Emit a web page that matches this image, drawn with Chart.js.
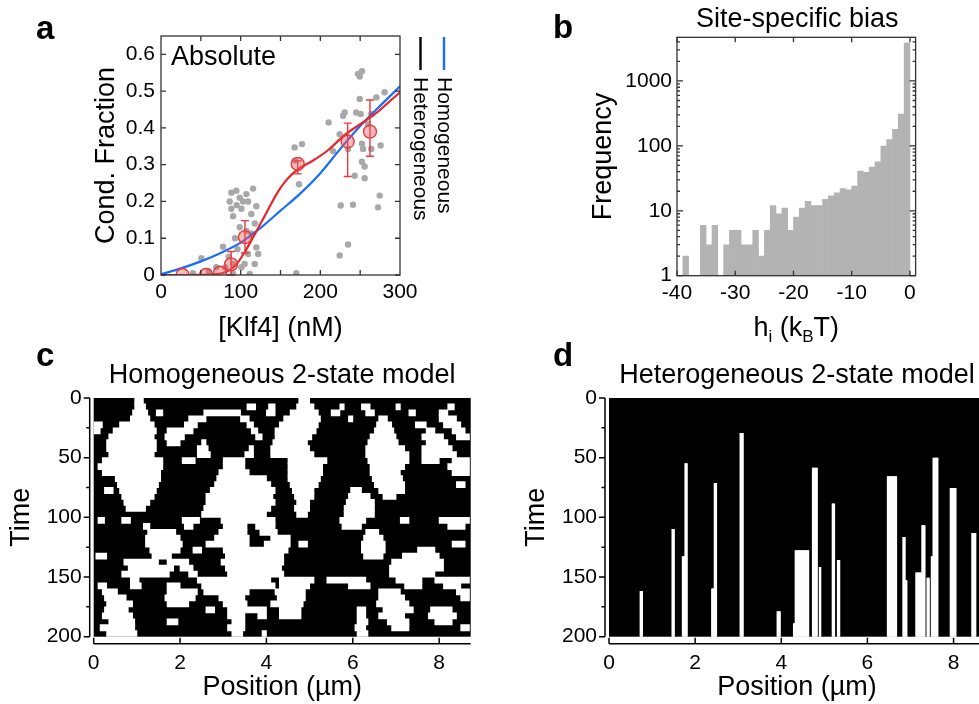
<!DOCTYPE html>
<html>
<head>
<meta charset="utf-8">
<script src="https://cdn.jsdelivr.net/npm/chart.js@4.4.1/dist/chart.umd.min.js"></script>
<style>
  html, body { margin: 0; padding: 0; background: #fff; width: 979px; height: 704px; overflow: hidden; }
  canvas { position: absolute; }
</style>
</head>
<body>
<canvas id="chart-a" width="490" height="345" style="left:0;top:0"></canvas>
<canvas id="chart-b" width="489" height="345" style="left:490px;top:0"></canvas>
<canvas id="chart-c" width="490" height="364" style="left:0;top:340px"></canvas>
<canvas id="chart-d" width="520" height="364" style="left:490px;top:340px"></canvas>
<script>
// ---- panel a: condensate fraction vs [Klf4] ----
const aPtsX = [50.6, 77.8, 69.4, 80.7, 90.4, 90.4, 94.5, 88.3, 86.2, 98.8, 107.2, 115.6, 90.4, 100.9, 109.3, 119.7,
  88.3, 113.4, 98.8, 107.2, 117.7, 113.4, 119.7, 109.3, 122, 105, 117.7, 111.3, 100.9, 95, 103, 93, 96, 85, 60, 40,
  169.9, 167.7, 177, 168.3, 173.2,
  210.4, 215.9, 228.5, 230.6, 224.3, 225.6, 224.3, 234.8, 241, 243.1, 247.3, 252.3, 249.4, 249.4, 250.7, 252.3,
  253.6, 252.3, 255.6, 255.6, 264, 270.3, 275.7, 274.5, 272.4, 280.7, 264, 259.8, 245, 234.8];
const aPtsY = [0.046, 0.077, 0.021, 0.021, 0.003, 0.03, 0.229, 0.224, 0.2, 0.21, 0.22, 0.235, 0.16, 0.18, 0.2, 0.187,
  0.18, 0.166, 0.13, 0.12, 0.14, 0.113, 0.075, 0.057, 0.057, 0.03, 0.03, 0.003, 0.021, 0.19, 0.2, 0.1, 0.07, 0.05, 0.01, 0.005,
  0.005, 0.347, 0.356, 0.311, 0.247,
  0.415, 0.337, 0.433, 0.442, 0.383, 0.189, 0.053, 0.083, 0.191, 0.27, 0.547, 0.554, 0.54, 0.479, 0.438, 0.357,
  0.343, 0.308, 0.295, 0.263, 0.343, 0.483, 0.352, 0.216, 0.184, 0.497, 0.438, 0.411, 0.442, 0.343];
const aHomX = [0, 25, 50, 75, 100, 125, 150, 175, 200, 225, 250, 275, 300];
const aHomY = [0.002, 0.018, 0.037, 0.06, 0.088, 0.128, 0.175, 0.222, 0.277, 0.343, 0.405, 0.46, 0.513];
const aHetX = [0, 30, 60, 75, 85, 95, 105, 115, 125, 135, 145, 155, 165, 175, 190, 210, 230, 250, 270, 290, 300];
const aHetY = [0, 0, 0.001, 0.004, 0.012, 0.03, 0.062, 0.1, 0.14, 0.18, 0.22, 0.252, 0.275, 0.292, 0.31, 0.34, 0.38, 0.41, 0.44, 0.478, 0.497];
const aMeanX = [27, 56.5, 74, 88, 105.4, 171.6, 234.3, 262.3];
const aMeanY = [0, 0, 0.006, 0.029, 0.103, 0.302, 0.363, 0.39];
const aErrLow = [0, 0, 0, 0, 0.06, 0.275, 0.268, 0.323];
const aErrHigh = [0, 0, 0.01, 0.064, 0.148, 0.31, 0.413, 0.476];
const aXTicks = [0, 100, 200, 300];
const aXMarks = [50, 100, 150, 200, 250];
const aYTicks = [0, 0.1, 0.2, 0.3, 0.4, 0.5, 0.6];

// ---- panel b: histogram of site-specific bias ----
const bBinCenters = [-39.5, -38.5, -37.5, -36.5, -35.5, -34.5, -33.5, -32.5, -31.5, -30.5, -29.5, -28.5, -27.5, -26.5,
  -25.5, -24.5, -23.5, -22.5, -21.5, -20.5, -19.5, -18.5, -17.5, -16.5, -15.5, -14.5, -13.5, -12.5, -11.5, -10.5,
  -9.5, -8.5, -7.5, -6.5, -5.5, -4.5, -3.5, -2.5, -1.5, -0.5];
const bCounts = [null, 2, null, null, 6, 3, 6, null, 3, 5, 5, 3, 3, 5, 2, 5, 12, 9, 11, 5, 8, 11, 14, 12, 12, 15, 17, 19,
  22, 21, 24, 41, 39, 47, 57, 99, 125, 180, 309, 3850];
const bXTicks = [-40, -30, -20, -10, 0];
const bYTicks = [1, 10, 100, 1000];

// ---- panel c: homogeneous model, white runs per 5-step time row ----
const cRowTimes = [2.5, 7.5, 12.5, 17.5, 22.5, 27.5, 32.5, 37.5, 42.5, 47.5, 52.5, 57.5, 62.5, 67.5, 72.5, 77.5, 82.5,
  87.5, 92.5, 97.5, 102.5, 107.5, 112.5, 117.5, 122.5, 127.5, 132.5, 137.5, 142.5, 147.5, 152.5, 157.5, 162.5, 167.5,
  172.5, 177.5, 182.5, 187.5, 192.5, 197.5];
const cWhiteRuns = [
  [0.95, 1.15, 4.75, 5.0],
  [0.95, 1.2, 3.55, 3.75, 4.05, 4.2, 4.7, 5.1, 5.7, 5.8, 6.2, 6.4, 7.0, 7.1, 8.2, 8.35],
  [0.9, 1.25, 1.45, 1.6, 2.55, 3.4, 4.0, 4.2, 4.55, 5.2, 5.5, 5.7, 6.3, 6.5, 7.3, 7.45, 8.0, 8.2],
  [0.85, 1.3, 2.2, 2.6, 3.4, 3.6, 4.4, 5.25, 5.9, 6.0, 6.6, 6.8, 8.0, 8.4],
  [0.0, 0.2, 0.6, 1.4, 2.1, 2.4, 3.55, 3.7, 4.3, 5.2, 6.55, 6.9, 7.45, 7.7, 8.1, 8.5],
  [0.0, 0.15, 0.45, 1.45, 1.7, 2.3, 3.65, 3.8, 4.2, 5.15, 6.5, 6.95, 7.7, 7.9, 8.3, 8.6],
  [0.35, 1.4, 1.65, 2.1, 3.75, 3.9, 4.2, 5.05, 6.4, 7.0, 7.6, 8.1, 8.4, 8.7],
  [0.3, 1.45, 1.7, 2.0, 2.5, 2.6, 4.15, 4.95, 6.35, 7.05, 7.7, 8.2],
  [0.3, 1.45, 2.4, 2.65, 3.6, 3.7, 4.1, 5.0, 6.3, 7.2, 7.6, 8.3],
  [0.35, 1.4, 2.4, 2.7, 3.5, 3.7, 4.1, 5.1, 6.3, 7.3, 7.6, 8.4],
  [0.2, 1.6, 2.05, 2.35, 3.0, 3.5, 4.5, 5.4, 6.35, 7.3, 7.6, 8.0, 8.3, 8.7],
  [0.1, 1.6, 3.0, 3.5, 4.5, 5.3, 6.4, 7.2, 8.2, 8.7],
  [0.2, 1.55, 2.9, 3.6, 4.5, 5.3, 6.4, 7.1, 8.3, 8.7],
  [0.5, 1.55, 2.85, 4.0, 4.5, 5.25, 6.45, 7.15],
  [0.55, 1.5, 2.8, 4.1, 4.55, 5.2, 6.5, 7.2, 8.4, 8.6],
  [0.25, 0.45, 0.6, 1.45, 2.7, 4.2, 4.6, 5.1, 5.95, 6.2, 6.6, 7.2],
  [0.65, 1.4, 2.6, 4.15, 4.65, 5.1, 5.9, 6.4, 6.7, 7.0],
  [0.7, 1.3, 2.6, 4.2, 4.7, 5.0, 5.85, 6.5],
  [0.75, 1.2, 2.55, 4.1, 4.65, 5.0, 5.8, 6.5],
  [2.5, 4.0, 4.7, 4.95, 5.8, 6.5],
  [0.1, 0.25, 0.65, 0.85, 2.05, 2.45, 2.95, 4.2, 5.7, 6.3, 7.1, 7.3, 8.0, 8.7],
  [1.15, 1.3, 2.1, 2.3, 3.0, 3.55, 3.75, 4.2, 5.75, 6.2, 8.2, 8.6],
  [1.25, 1.9, 2.9, 3.55, 3.85, 4.25, 6.3, 6.6],
  [1.2, 2.0, 2.8, 3.6, 4.1, 4.55, 6.25, 6.7],
  [1.2, 2.05, 2.6, 3.6, 3.95, 4.55, 4.75, 4.95, 6.2, 6.75, 8.3, 8.6],
  [1.3, 2.0, 2.3, 2.5, 3.0, 4.5, 6.2, 6.75, 7.5, 7.9],
  [0.05, 0.3, 1.35, 1.8, 3.05, 4.4, 6.25, 6.7, 7.15, 8.0],
  [0.7, 1.5, 1.7, 2.2, 2.95, 4.4, 6.9, 8.1],
  [0.8, 1.85, 2.0, 2.3, 3.05, 4.35, 6.85, 8.1],
  [0.65, 1.75, 2.2, 2.4, 3.1, 4.4, 6.85, 7.9],
  [0.85, 1.05, 2.4, 4.1, 4.3, 5.1, 5.4, 6.3, 7.0, 7.6, 7.9, 8.7],
  [0.1, 0.3, 0.85, 1.1, 1.7, 2.0, 2.5, 4.2, 4.3, 5.0, 5.9, 6.4, 7.2, 7.6, 8.1, 8.5],
  [0.2, 0.55, 1.7, 2.4, 2.55, 3.6, 4.2, 4.9, 6.6, 7.1, 8.4, 8.7],
  [0.25, 0.75, 1.65, 2.35, 2.9, 3.5, 4.25, 4.9, 6.6, 7.2, 8.5, 8.7],
  [0.3, 0.9, 1.7, 2.2, 3.0, 3.55, 4.1, 4.85, 6.55, 7.3],
  [0.25, 0.8, 2.6, 2.8, 3.1, 4.0, 4.3, 4.8, 6.1, 6.3, 6.7, 7.4, 7.8, 8.3],
  [0.2, 0.9, 3.1, 3.5, 3.8, 4.0, 4.3, 4.8, 6.1, 6.3, 6.6, 7.2, 7.75, 8.4],
  [0.35, 0.95, 1.7, 1.95, 3.2, 3.5, 6.1, 6.35, 6.8, 7.3, 7.9, 8.3],
  [0.15, 0.95, 3.1, 3.5, 6.05, 6.3, 6.9, 7.3, 8.5, 8.7],
  [0.3, 1.0, 3.2, 3.45, 3.9, 4.0, 6.1, 6.35]
];

// ---- panel d: heterogeneous model, white bound stretches ----
const dBarStart = [0.713, 1.455, 1.696, 1.758, 2.378, 2.447, 3.036, 3.896, 4.283, 4.315, 4.72, 4.886, 5.18, 5.3,
  6.45, 6.82, 6.88, 7.12, 7.26, 7.37, 7.47, 7.51, 7.92, 8.42];
const dBarEnd = [0.774, 1.51, 1.797, 1.813, 2.455, 2.494, 3.12, 3.989, 4.345, 4.64, 4.85, 4.925, 5.23, 5.35,
  6.68, 6.88, 6.92, 7.28, 7.34, 7.44, 7.53, 7.64, 8.06, 8.51];
const dBarTop = [162, 110, 133, 55, 160, 71.5, 29.6, 179, 189, 128, 58.7, 142, 88.8, 136,
  66, 116.8, 153, 146.6, 107, 151, 133, 50.3, 75.7, 113.4];

const kymoXTicks = [0, 2, 4, 6, 8];
const kymoYTicks = [0, 50, 100, 150, 200];
const kymoYMinor = [25, 75, 125, 175];

const FONT = 'Arial, "Liberation Sans", Helvetica, sans-serif';
Chart.defaults.font.family = FONT;
Chart.defaults.color = '#000';
Chart.defaults.animation = false;
Chart.defaults.plugins.legend.display = false;
Chart.defaults.plugins.tooltip.enabled = false;

function pts(xs, ys) { return xs.map((x, i) => ({ x, y: ys[i] })); }
function setTicks(vals) { return s => { s.ticks = vals.map(v => ({ value: v })); }; }
function fixW(w) { return s => { s.width = w; }; }
function fixH(h) { return s => { s.height = h; }; }
function txt(ctx, s, x, y, o = {}) {
  ctx.save();
  ctx.font = (o.bold ? 'bold ' : '') + (o.size || 27) + 'px ' + FONT;
  ctx.fillStyle = '#000';
  ctx.textAlign = o.align || 'left';
  ctx.textBaseline = o.base || 'alphabetic';
  ctx.translate(x, y);
  if (o.rot) ctx.rotate(o.rot);
  ctx.fillText(s, 0, 0);
  ctx.restore();
}
function hiddenGrid() { return { display: false, drawTicks: false }; }

// box with inward ticks on all four sides
function boxPlugin(xMarks, yMarks) {
  return {
    id: 'box',
    afterDatasetsDraw(chart) {
      const { ctx, chartArea: a, scales: { x, y } } = chart;
      ctx.save();
      ctx.strokeStyle = '#333';
      ctx.lineWidth = 1.3;
      ctx.strokeRect(a.left, a.top, a.right - a.left, a.bottom - a.top);
      ctx.beginPath();
      xMarks.forEach(v => {
        const px = x.getPixelForValue(v);
        ctx.moveTo(px, a.bottom); ctx.lineTo(px, a.bottom - 5);
        ctx.moveTo(px, a.top); ctx.lineTo(px, a.top + 5);
      });
      yMarks.forEach(m => {
        const py = y.getPixelForValue(m[0]);
        ctx.moveTo(a.left, py); ctx.lineTo(a.left + m[1], py);
        ctx.moveTo(a.right, py); ctx.lineTo(a.right - m[1], py);
      });
      ctx.stroke();
      ctx.restore();
    }
  };
}

// ---------------- panel a ----------------
new Chart(document.getElementById('chart-a'), {
  type: 'scatter',
  data: {
    datasets: [
      { label: 'data', data: pts(aPtsX, aPtsY), pointRadius: 3.2, backgroundColor: '#a8a8a8', borderWidth: 0, order: 4 },
      { type: 'line', label: 'Homogeneous', data: pts(aHomX, aHomY), borderColor: '#1a6cff', borderWidth: 2.2,
        pointRadius: 0, cubicInterpolationMode: 'monotone', order: 3 },
      { type: 'line', label: 'Heterogeneous', data: pts(aHetX, aHetY), borderColor: '#e6262b', borderWidth: 2.2,
        pointRadius: 0, cubicInterpolationMode: 'monotone', order: 2 },
      { label: 'mean', data: pts(aMeanX, aMeanY), pointRadius: 6.5, backgroundColor: 'rgba(236,90,95,0.42)',
        borderColor: '#e53a3e', borderWidth: 1.4, order: 1 },
    ]
  },
  options: {
    responsive: false,
    layout: { padding: { left: 101, right: 90, top: 36, bottom: 20 } },
    scales: {
      x: { type: 'linear', min: 0, max: 300, offset: false, grid: hiddenGrid(), border: { display: false },
        afterBuildTicks: setTicks(aXTicks), afterFit: fixH(50), ticks: { font: { size: 21 }, padding: 5 } },
      y: { type: 'linear', min: 0, max: 0.65, grid: hiddenGrid(), border: { display: false },
        afterBuildTicks: setTicks(aYTicks), afterFit: fixW(60),
        ticks: { font: { size: 21 }, padding: 6, callback: v => v === 0 ? '0' : v.toFixed(1) } },
    }
  },
  plugins: [
    boxPlugin(aXMarks, aYTicks.map(v => [v, 5])),
    {
      id: 'errbars',
      beforeDatasetDraw(chart, args) {
        if (args.index !== 3) return;
        const { ctx, scales: { x, y } } = chart;
        ctx.save();
        ctx.strokeStyle = '#e53a3e';
        ctx.lineWidth = 1.4;
        ctx.beginPath();
        aMeanX.forEach((v, i) => {
          if (aErrHigh[i] - aErrLow[i] < 0.02) return;
          const px = x.getPixelForValue(v);
          const lo = y.getPixelForValue(aErrLow[i]), hi = y.getPixelForValue(aErrHigh[i]);
          ctx.moveTo(px, lo); ctx.lineTo(px, hi);
          ctx.moveTo(px - 4, lo); ctx.lineTo(px + 4, lo);
          ctx.moveTo(px - 4, hi); ctx.lineTo(px + 4, hi);
        });
        ctx.stroke();
        ctx.restore();
      }
    },
    {
      id: 'textA',
      afterDraw(chart) {
        const ctx = chart.ctx, a = chart.chartArea;
        txt(ctx, 'a', 36, 39, { bold: true, size: 33 });
        txt(ctx, 'Absolute', 171, 65, { size: 27 });
        txt(ctx, 'Cond. Fraction', 107, (a.top + a.bottom) / 2, { size: 27, align: 'center', base: 'middle', rot: -Math.PI / 2 });
        txt(ctx, '[Klf4] (nM)', (a.left + a.right) / 2, 336, { size: 27, align: 'center' });
        // rotated legend
        const ds = chart.data.datasets;
        const items = [[ds[2].label, '#000', 420.5], [ds[1].label, ds[1].borderColor, 444]];
        items.forEach(([label, color, cx]) => {
          ctx.save();
          ctx.strokeStyle = color;
          ctx.lineWidth = 2.4;
          ctx.beginPath(); ctx.moveTo(cx, 37); ctx.lineTo(cx, 70); ctx.stroke();
          ctx.restore();
          txt(ctx, label, cx - 0.5, 77, { size: 21, base: 'middle', rot: Math.PI / 2 });
        });
      }
    }
  ]
});

// ---------------- panel b ----------------
const bMinor = [];
[1, 10, 100, 1000].forEach(d => [2, 3, 4, 5, 6, 7, 8, 9].forEach(m => { if (d * m < 4700) bMinor.push([d * m, 3]); }));
new Chart(document.getElementById('chart-b'), {
  type: 'bar',
  data: {
    datasets: [{ label: 'Frequency', data: pts(bBinCenters, bCounts), backgroundColor: '#b3b3b3', borderWidth: 0,
      barPercentage: 1, categoryPercentage: 1, inflateAmount: 0.3 }]
  },
  options: {
    responsive: false,
    layout: { padding: { left: 127, right: 63.4, top: 37.3, bottom: 19.3 } },
    scales: {
      x: { type: 'linear', min: -40, max: 0.97, offset: false, grid: hiddenGrid(), border: { display: false },
        afterBuildTicks: setTicks(bXTicks), afterFit: fixH(50), ticks: { font: { size: 21 }, padding: 5 } },
      y: { type: 'logarithmic', min: 1, max: 4700, grid: hiddenGrid(), border: { display: false },
        afterBuildTicks: setTicks(bYTicks), afterFit: fixW(60),
        ticks: { font: { size: 21 }, padding: 5, callback: v => String(v) } },
    }
  },
  plugins: [
    boxPlugin(bXTicks, bYTicks.map(v => [v, 6]).concat(bMinor)),
    {
      id: 'textB',
      afterDraw(chart) {
        const ctx = chart.ctx, a = chart.chartArea;
        const cx = (a.left + a.right) / 2;
        txt(ctx, 'b', 63, 38, { bold: true, size: 33 });
        txt(ctx, 'Site-specific bias', cx + 1, 27, { size: 27, align: 'center' });
        txt(ctx, 'Frequency', 114, (a.top + a.bottom) / 2, { size: 27, align: 'center', base: 'middle', rot: -Math.PI / 2 });
        // h_i (k_B T) with subscripts
        const parts = [['h', 27, 0], ['i', 17, 6], [' (k', 27, 0], ['B', 17, 6], ['T)', 27, 0]];
        ctx.save();
        let total = 0;
        parts.forEach(p => { ctx.font = p[1] + 'px ' + FONT; total += ctx.measureText(p[0]).width; });
        let x0 = cx - total / 2;
        parts.forEach(p => {
          ctx.font = p[1] + 'px ' + FONT;
          txt(ctx, p[0], x0, 336 + p[2], { size: p[1] });
          x0 += ctx.measureText(p[0]).width;
        });
        ctx.restore();
      }
    }
  ]
});

// ---------------- panels c, d (kymographs) ----------------
function kymoPlugin(letter, letterX, title, timeX) {
  return {
    id: 'kymo',
    beforeDatasetsDraw(chart) {
      const { ctx, chartArea: a } = chart;
      ctx.save();
      ctx.fillStyle = '#000';
      ctx.fillRect(a.left, a.top, a.right - a.left, a.bottom - a.top);
      ctx.restore();
    },
    afterDraw(chart) {
      const { ctx, chartArea: a, scales } = chart;
      const xs = scales.x, ys = scales.y;
      const axX = a.left - 4, axY = a.bottom + 7;
      ctx.save();
      ctx.strokeStyle = '#000';
      ctx.lineWidth = 1.5;
      ctx.beginPath();
      ctx.moveTo(axX, ys.getPixelForValue(0)); ctx.lineTo(axX, ys.getPixelForValue(200));
      kymoYTicks.forEach(v => { const p = ys.getPixelForValue(v); ctx.moveTo(axX, p); ctx.lineTo(axX - 6, p); });
      kymoYMinor.forEach(v => { const p = ys.getPixelForValue(v); ctx.moveTo(axX, p); ctx.lineTo(axX - 3.5, p); });
      ctx.moveTo(xs.getPixelForValue(0), axY); ctx.lineTo(a.right, axY);
      kymoXTicks.forEach(v => { const p = xs.getPixelForValue(v); ctx.moveTo(p, axY); ctx.lineTo(p, axY - 6); });
      ctx.stroke();
      ctx.restore();
      const cx = (a.left + a.right) / 2;
      txt(ctx, letter, letterX, 26, { bold: true, size: 33 });
      txt(ctx, title, cx, 43, { size: 27, align: 'center' });
      txt(ctx, 'Time', timeX, (a.top + a.bottom) / 2, { size: 27, align: 'center', base: 'middle', rot: -Math.PI / 2 });
      txt(ctx, 'Position (\u00b5m)', cx, 355, { size: 27, align: 'center' });
    }
  };
}
function kymoScales() {
  const pos = { type: 'linear', min: 0, max: 8.73, offset: false, grid: hiddenGrid(), border: { display: false },
    afterBuildTicks: setTicks(kymoXTicks), afterFit: fixH(50), ticks: { font: { size: 21 }, padding: 13.7 } };
  const time = { type: 'linear', min: 0, max: 200, offset: false, reverse: true, grid: hiddenGrid(), border: { display: false },
    afterBuildTicks: setTicks(kymoYTicks), afterFit: fixW(60), ticks: { font: { size: 21 }, padding: 12 } };
  return { x: pos, y: time };
}

const cData = [];
cWhiteRuns.forEach((runs, i) => {
  for (let k = 0; k < runs.length; k += 2) cData.push({ y: cRowTimes[i], x: [runs[k], runs[k + 1]] });
});
new Chart(document.getElementById('chart-c'), {
  type: 'bar',
  data: { datasets: [{ label: 'bound', data: cData, backgroundColor: '#fff', borderWidth: 0,
    barPercentage: 1, categoryPercentage: 1, inflateAmount: 0.4, grouped: false }] },
  options: {
    responsive: false,
    indexAxis: 'y',
    layout: { padding: { left: 33.7, right: 19.3, top: 58, bottom: 17.3 } },
    scales: kymoScales(),
  },
  plugins: [kymoPlugin('c', 36, 'Homogeneous 2-state model', 22)]
});

const dCol = 0.02;
const dCols = new Map();
dBarStart.forEach((s, i) => {
  for (let k = Math.round(s / dCol); k < Math.round(dBarEnd[i] / dCol); k++) {
    if (!dCols.has(k) || dCols.get(k) > dBarTop[i]) dCols.set(k, dBarTop[i]);
  }
});
const dData = [...dCols].map(([k, t]) => ({ x: (k + 0.5) * dCol, y: [t, 200] }));
new Chart(document.getElementById('chart-d'), {
  type: 'bar',
  data: { datasets: [{ label: 'bound', data: dData, backgroundColor: '#fff', borderWidth: 0,
    barPercentage: 1, categoryPercentage: 1, inflateAmount: 0.4, grouped: false }] },
  options: {
    responsive: false,
    layout: { padding: { left: 59, right: 25, top: 58, bottom: 17.3 } },
    scales: kymoScales(),
  },
  plugins: [kymoPlugin('d', 63, 'Heterogeneous 2-state model', 47)]
});
</script>
</body>
</html>
